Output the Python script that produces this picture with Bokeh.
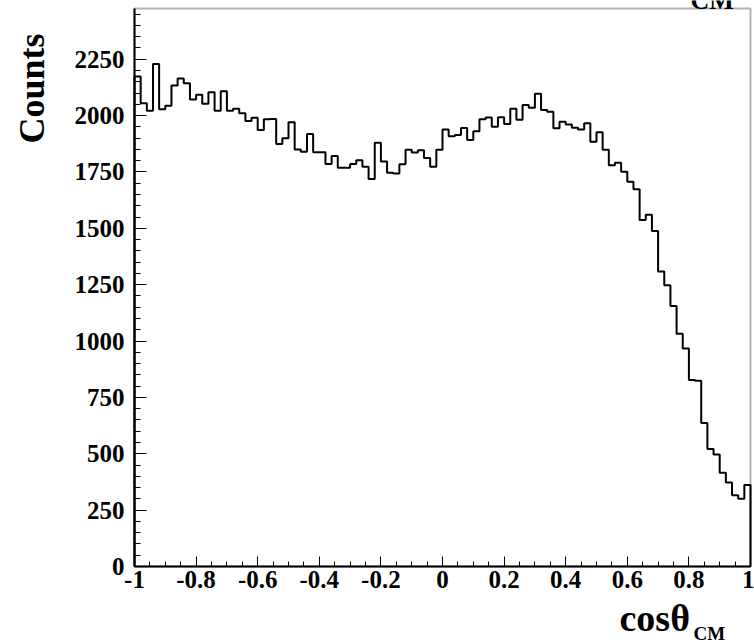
import numpy as np
from bokeh.plotting import figure
from bokeh.models import (Range1d, SingleIntervalTicker, CustomJSTickFormatter,
                          Label, BoxAnnotation)
from bokeh.embed import file_html
from bokeh.resources import INLINE

# Histogram of cos(theta_CM): 100 bins over [-1, 1]
x_low, x_high = -1.0, 1.0
n_bins = 100
counts = [2173, 2055, 2021, 2229, 2028, 2044, 2133, 2164, 2143, 2071,
          2092, 2053, 2104, 2021, 2108, 2021, 2030, 2010, 1976, 1990,
          1936, 1984, 1985, 1874, 1899, 1970, 1850, 1840, 1918, 1837,
          1837, 1785, 1821, 1769, 1769, 1785, 1802, 1773, 1719, 1880,
          1796, 1747, 1743, 1784, 1849, 1836, 1846, 1812, 1773, 1849,
          1938, 1908, 1914, 1945, 1892, 1931, 1984, 1991, 1950, 1993,
          1963, 2030, 1981, 2047, 2035, 2097, 2025, 2017, 1944, 1973,
          1960, 1946, 1938, 1966, 1884, 1926, 1849, 1780, 1791, 1751,
          1707, 1673, 1537, 1560, 1488, 1309, 1248, 1155, 1032, 967,
          827, 824, 637, 521, 497, 416, 373, 316, 300, 361]
y_max = 2475

FONT = "Liberation Serif"

edges = np.linspace(x_low, x_high, n_bins + 1)
c = np.asarray(counts, dtype=float)
# outline of the histogram: up from zero, across each bin, back down at the end
xs = np.concatenate([[edges[0]], np.repeat(edges[1:-1], 2), [edges[-1]]])
xs = np.concatenate([[edges[0]], xs, [edges[-1]]])
ys = np.concatenate([[0.0], np.repeat(c, 2), [0.0]])

# Canvas and the pad box inside it (pixels from the top-left corner).
W, H = 754, 644
box_left, box_right, box_top, box_bottom = 134, 750, 8, 566
kx = (box_right - box_left) / (x_high - x_low)      # px per x unit
ky = (box_bottom - box_top) / y_max                 # px per count
x_start = x_low - box_left / kx
x_end = x_high + (W - box_right) / kx
y_start = -(H - box_bottom) / ky
y_end = y_max + box_top / ky

def dx(px):
    return x_start + px / kx
def dy(py):
    return y_end - py / ky

# The drawing area spans the whole canvas; the axes are pinned to the pad box
p = figure(width=W, height=H, output_backend="svg", toolbar_location=None,
           x_range=Range1d(x_start, x_end), y_range=Range1d(y_start, y_end),
           min_border=0)
p.background_fill_color = "white"
p.border_fill_color = "white"
p.outline_line_color = None
p.xgrid.visible = False
p.ygrid.visible = False

p.add_layout(BoxAnnotation(left=x_low, right=x_high, bottom=0, top=y_max,
                           fill_alpha=0, line_color="black", line_width=2))

p.line(xs, ys, line_color="black", line_width=2)

# axes: ticks pointing into the box, bold serif labels
p.xaxis.fixed_location = 0
p.yaxis.fixed_location = x_low
p.xaxis.bounds = (x_low, x_high)
p.yaxis.bounds = (0, y_max)
p.xaxis.ticker = SingleIntervalTicker(interval=0.2, num_minor_ticks=4)
p.yaxis.ticker = SingleIntervalTicker(interval=250, num_minor_ticks=5)
p.xaxis.formatter = CustomJSTickFormatter(code="""
    const v = Math.round(tick * 10) / 10;
    return Math.abs(v) < 1e-9 ? "0" : String(v);
""")
for ax in (p.xaxis[0], p.yaxis[0]):
    ax.axis_line_color = "black"
    ax.axis_line_width = 2
    ax.major_tick_out = 0
    ax.minor_tick_out = 0
    ax.major_tick_line_color = "black"
    ax.minor_tick_line_color = "black"
    ax.major_label_text_font = FONT
    ax.major_label_text_font_style = "bold"
    ax.major_label_text_font_size = "25px"
    ax.major_label_text_color = "black"
p.xaxis.major_tick_in = 10
p.xaxis.minor_tick_in = 5
p.xaxis.major_label_standoff = 4
p.yaxis.major_tick_in = 12
p.yaxis.minor_tick_in = 6
p.yaxis.major_label_standoff = 10

# text placed by its baseline; anchored at the middle of the em box
MID = 0.3375
def add_text(px, base_py, text, size, vertical=False):
    if vertical:
        # rotated a quarter turn: the baseline runs vertically at x = px,
        # and base_py is where the text ends (its top)
        p.add_layout(Label(x=dx(px - MID * size), y=dy(base_py), text=text,
                           angle=np.pi / 2, text_align="right",
                           text_baseline="middle", text_font=FONT,
                           text_font_style="bold", text_font_size=f"{size}px",
                           text_color="black"))
    else:
        p.add_layout(Label(x=dx(px), y=dy(base_py - MID * size), text=text,
                           text_align="left", text_baseline="middle",
                           text_font=FONT, text_font_style="bold",
                           text_font_size=f"{size}px", text_color="black"))

add_text(44, 33, "Counts", 36, vertical=True)
add_text(619, 630, "cos\u03b8", 38)
add_text(693, 639, "CM", 19)
# subscript of the title line above the pad, mostly out of view
add_text(690, 9, "CM", 26)

open("out.html", "w").write(file_html(p, INLINE))
